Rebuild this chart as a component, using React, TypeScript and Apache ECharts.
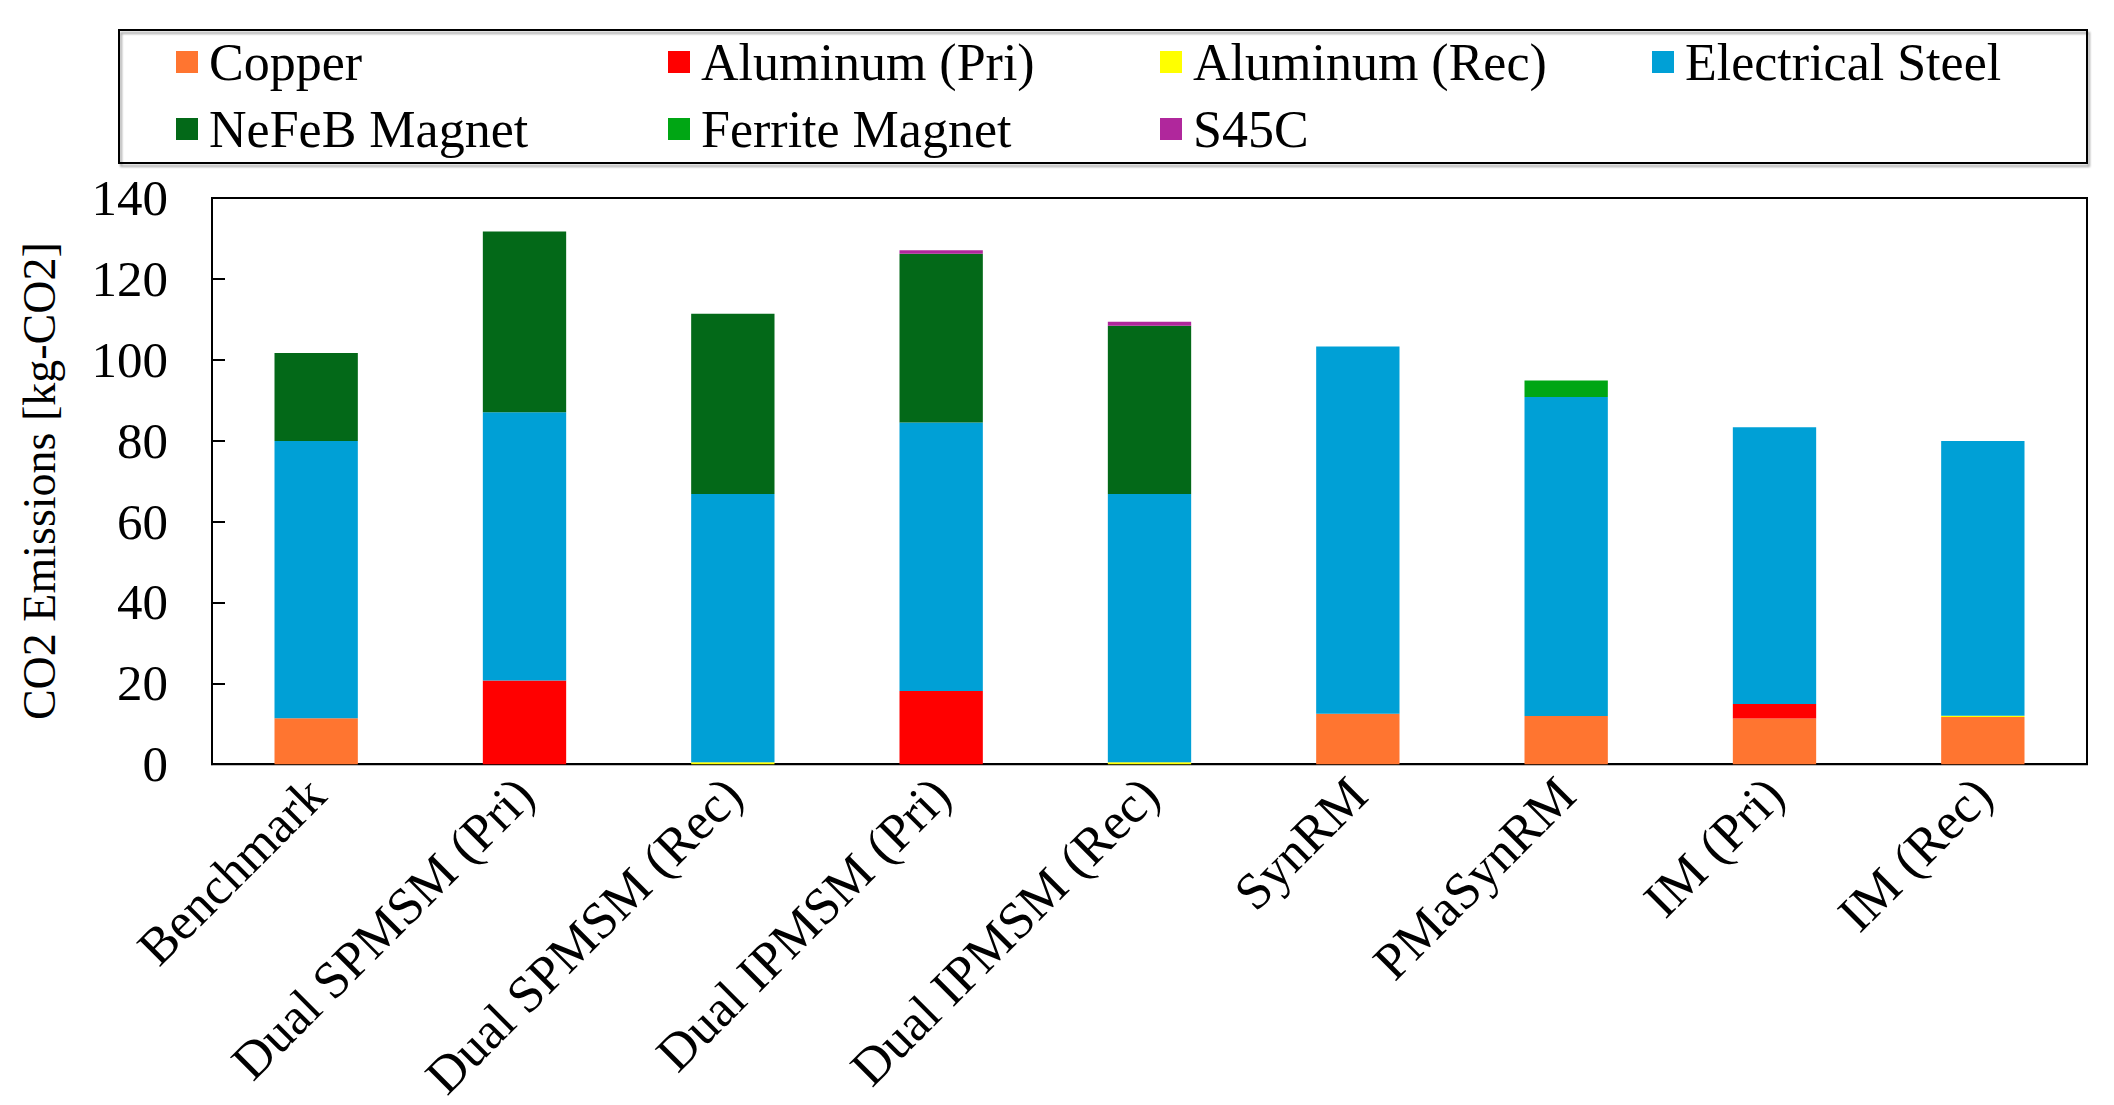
import { useEffect, useRef } from 'react';
import * as echarts from 'echarts';

const categories = [
  'Benchmark',
  'Dual SPMSM (Pri)',
  'Dual SPMSM (Rec)',
  'Dual IPMSM (Pri)',
  'Dual IPMSM (Rec)',
  'SynRM',
  'PMaSynRM',
  'IM (Pri)',
  'IM (Rec)',
];

const copper = [11.4, 0, 0, 0, 0, 12.5, 11.9, 11.3, 11.7];
const aluminumPri = [0, 20.7, 0, 18.1, 0, 0, 0, 3.6, 0];
const aluminumRec = [0, 0, 0.5, 0, 0.5, 0, 0, 0, 0.3];
const electricalSteel = [68.5, 66.3, 66.3, 66.4, 66.3, 90.8, 78.9, 68.4, 67.9];
const nefebMagnet = [21.8, 44.7, 44.6, 41.7, 41.6, 0, 0, 0, 0];
const ferriteMagnet = [0, 0, 0, 0, 0, 0, 4.1, 0, 0];
const s45c = [0, 0, 0, 0.9, 1.0, 0, 0, 0, 0];

const seriesList = [
  { name: 'Copper', data: copper, color: '#FF7530' },
  { name: 'Aluminum (Pri)', data: aluminumPri, color: '#FF0000' },
  { name: 'Aluminum (Rec)', data: aluminumRec, color: '#FFFF00' },
  { name: 'Electrical Steel', data: electricalSteel, color: '#00A0D6' },
  { name: 'NeFeB Magnet', data: nefebMagnet, color: '#036918' },
  { name: 'Ferrite Magnet', data: ferriteMagnet, color: '#00A614' },
  { name: 'S45C', data: s45c, color: '#B0279C' },
];

const yTicks = [0, 20, 40, 60, 80, 100, 120, 140];

const FONT = '"Liberation Serif", "Times New Roman", serif';

// legend slots: column lefts and row tops
const legendCols = [176, 668, 1160, 1652];
const legendRows = [36, 103];

export default function App() {
  const chartRef = useRef<HTMLDivElement>(null);

  useEffect(() => {
    if (!chartRef.current) return;
    document.body.style.margin = '0';
    const chart = echarts.init(chartRef.current, undefined, { renderer: 'svg' });

    const legends = seriesList.map((s, i) => ({
      data: [s.name],
      left: legendCols[i % 4],
      top: legendRows[Math.floor(i / 4)],
      padding: 0,
      itemWidth: 22,
      itemHeight: 22,
      icon: 'rect',
      selectedMode: false,
      textStyle: { fontFamily: FONT, fontSize: 52, color: '#000', padding: [0, 0, 0, 6] },
    }));

    chart.setOption({
      animation: false,
      backgroundColor: '#fff',
      legend: legends,
      graphic: [
        {
          type: 'rect',
          shape: { x: 119, y: 30, width: 1968, height: 133 },
          style: { fill: 'none', stroke: '#000', lineWidth: 2, shadowColor: 'rgba(0,0,0,0.35)', shadowOffsetX: 2, shadowOffsetY: 3, shadowBlur: 2 },
          z: 0,
        },
      ],
      grid: {
        left: 212,
        right: 27,
        top: 198,
        bottom: 338,
        show: true,
        borderColor: '#000',
        borderWidth: 2,
        backgroundColor: 'transparent',
      },
      xAxis: {
        type: 'category',
        data: categories,
        axisLine: { lineStyle: { color: '#000', width: 2 } },
        axisTick: { show: false },
        axisLabel: {
          rotate: 45,
          margin: 22,
          interval: 0,
          fontFamily: FONT,
          fontSize: 52,
          color: '#000',
        },
      },
      yAxis: {
        type: 'value',
        min: yTicks[0],
        max: yTicks[yTicks.length - 1],
        interval: 20,
        name: 'CO2 Emissions [kg-CO2]',
        nameLocation: 'middle',
        nameGap: 150,
        nameTextStyle: { fontFamily: FONT, fontSize: 46, color: '#000' },
        axisLine: { show: true, lineStyle: { color: '#000', width: 2 } },
        axisTick: { show: true, inside: true, length: 13, lineStyle: { color: '#000', width: 2 } },
        splitLine: { show: false },
        axisLabel: { fontFamily: FONT, fontSize: 51, color: '#000', margin: 44 },
      },
      series: seriesList.map((s) => ({
        name: s.name,
        type: 'bar',
        stack: 'total',
        data: s.data,
        barWidth: '40%',
        itemStyle: { color: s.color },
      })),
    });

    return () => {
      chart.dispose();
    };
  }, []);

  return <div ref={chartRef} style={{ width: 2114, height: 1105 }} />;
}
